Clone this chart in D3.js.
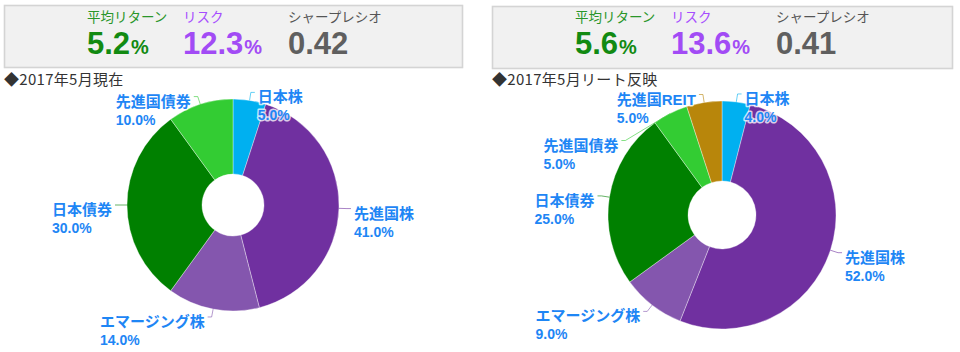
<!DOCTYPE html>
<html>
<head>
<meta charset="utf-8">
<script src="https://cdn.jsdelivr.net/npm/d3@7"></script>
<style>
  body { margin: 0; background: #fff; }
  svg { display: block; }
</style>
</head>
<body>
<svg width="960" height="352"></svg>
<script>
(() => {

    // data
    var categoriesA = ["日本株", "先進国株", "エマージング株", "日本債券", "先進国債券"];
    var valuesA = [5, 41, 14, 30, 10];
    var categoriesB = ["日本株", "先進国株", "エマージング株", "日本債券", "先進国債券", "先進国REIT"];
    var valuesB = [4, 52, 9, 25, 5, 5];

    var statLabels = ["平均リターン", "リスク", "シャープレシオ"];
    var statsA = ["5.2", "12.3", "0.42"];
    var statsB = ["5.6", "13.6", "0.41"];
    var statUnits = ["%", "%", ""];
    var titles = ["◆2017年5月現在", "◆2017年5月リート反映"];

    var color = d3.scaleOrdinal()
        .domain(["日本株", "先進国株", "エマージング株", "日本債券", "先進国債券", "先進国REIT"])
        .range(["#00b0f0", "#7030a0", "#8456ae", "#008000", "#33cc33", "#b8860b"]);

    var statColors = [
        { label: "#2a962a", value: "#128a12" },
        { label: "#a64dff", value: "#a24bf5" },
        { label: "#555555", value: "#5f5f5f" }
    ];

    var svg = d3.select("svg");
    var jpFont = "'Noto Sans CJK JP', sans-serif";
    var numFont = "'Liberation Sans', Arial, 'Noto Sans CJK JP', sans-serif";

    var panels = [
        { x: 0, box: [4, 5, 458, 62], cats: categoriesA, vals: valuesA, stats: statsA, title: titles[0],
          cx: 233, cy: 205, R: 106, r: 31 },
        { x: 488, box: [492, 6, 460, 62], cats: categoriesB, vals: valuesB, stats: statsB, title: titles[1],
          cx: 722, cy: 215, R: 114, r: 34 }
    ];

    var statX = [87, 183, 288];

    panels.forEach(function (p) {
        // stat box
        svg.append("rect")
            .attr("x", p.box[0] + 0.5).attr("y", p.box[1] + 0.5)
            .attr("width", p.box[2]).attr("height", p.box[3])
            .attr("fill", "#f1f1f1")
            .attr("stroke", "#d4d4d4")
            .attr("stroke-width", 1.6);

        statLabels.forEach(function (lab, i) {
            var g = svg.append("g").attr("transform", "translate(" + [p.x + statX[i], 0] + ")");
            g.append("text")
                .attr("y", 22)
                .attr("font-family", jpFont)
                .attr("font-size", 13.5)
                .attr("fill", statColors[i].label)
                .text(lab);
            var t = g.append("text")
                .attr("y", 54)
                .attr("font-family", numFont)
                .attr("font-weight", "bold")
                .attr("fill", statColors[i].value);
            t.append("tspan").attr("font-size", 31).text(p.stats[i]);
            if (statUnits[i]) {
                t.append("tspan").attr("font-size", 20).attr("dx", 1).text(statUnits[i]);
            }
        });

        // title
        svg.append("text")
            .attr("x", p.box[0])
            .attr("y", 85)
            .attr("font-family", jpFont)
            .attr("font-size", 15)
            .attr("letter-spacing", 0.3)
            .attr("fill", "#333")
            .text(p.title);

        // pie
        var pie = d3.pie().sort(null).value(function (d) { return d.v; });
        var arcs = pie(p.cats.map(function (c, i) { return { c: c, v: p.vals[i] }; }));
        var arc = d3.arc().innerRadius(p.r).outerRadius(p.R);

        var g = svg.append("g").attr("transform", "translate(" + [p.cx, p.cy] + ")");
        g.selectAll("path.slice")
            .data(arcs)
            .enter().append("path")
            .attr("class", "slice")
            .attr("d", arc)
            .attr("fill", function (d) { return color(d.data.c); })
            .attr("stroke", "rgba(255,255,255,0.45)")
            .attr("stroke-width", 0.8);

        // label layout
        var lr = p.R + 8;
        var labels = arcs.map(function (d) {
            var a = (d.startAngle + d.endAngle) / 2;
            return {
                d: d,
                a: a,
                side: Math.sin(a) >= 0 ? 1 : -1,
                ex: Math.sin(a) * p.R,
                ey: -Math.cos(a) * p.R,
                y: -Math.cos(a) * lr
            };
        });

        [1, -1].forEach(function (side) {
            var s = labels.filter(function (l) { return l.side === side; })
                .sort(function (a, b) { return a.y - b.y; });
            for (var i = 1; i < s.length; i++) {
                if (s[i].y < s[i - 1].y + 46) s[i].y = s[i - 1].y + 46;
            }
        });

        labels.forEach(function (l) {
            var dy = Math.min(Math.abs(l.y), lr - 1);
            l.x = l.side * Math.sqrt(lr * lr - dy * dy);
        });

        g.selectAll("path.leader")
            .data(labels)
            .enter().append("path")
            .attr("class", "leader")
            .attr("d", function (l) {
                return d3.line()([[l.ex, l.ey], [l.x, l.y], [l.x + l.side * 4, l.y]]);
            })
            .attr("fill", "none")
            .attr("stroke", function (l) { return color(l.d.data.c); })
            .attr("stroke-opacity", 0.6)
            .attr("stroke-width", 1);

        labels.forEach(function (l) {
            var t = g.append("text")
                .attr("font-family", numFont)
                .attr("font-weight", "bold")
                .attr("fill", "#1e86f5")
                .attr("stroke", "rgba(255,255,255,0.75)")
                .attr("stroke-width", 3)
                .attr("stroke-linejoin", "round")
                .attr("paint-order", "stroke");
            var t1 = t.append("tspan").attr("y", l.y + 10).attr("font-size", 15).text(l.d.data.c);
            var t2 = t.append("tspan").attr("y", l.y + 28).attr("font-size", 14)
                .text(d3.format(".1f")(l.d.data.v) + "%");
            var w = Math.max(t1.node().getComputedTextLength(), t2.node().getComputedTextLength());
            var tx = l.side > 0 ? l.x + 7 : l.x - 7 - w;
            t1.attr("x", tx);
            t2.attr("x", tx);
        });
    });

})();
</script>
</body>
</html>
